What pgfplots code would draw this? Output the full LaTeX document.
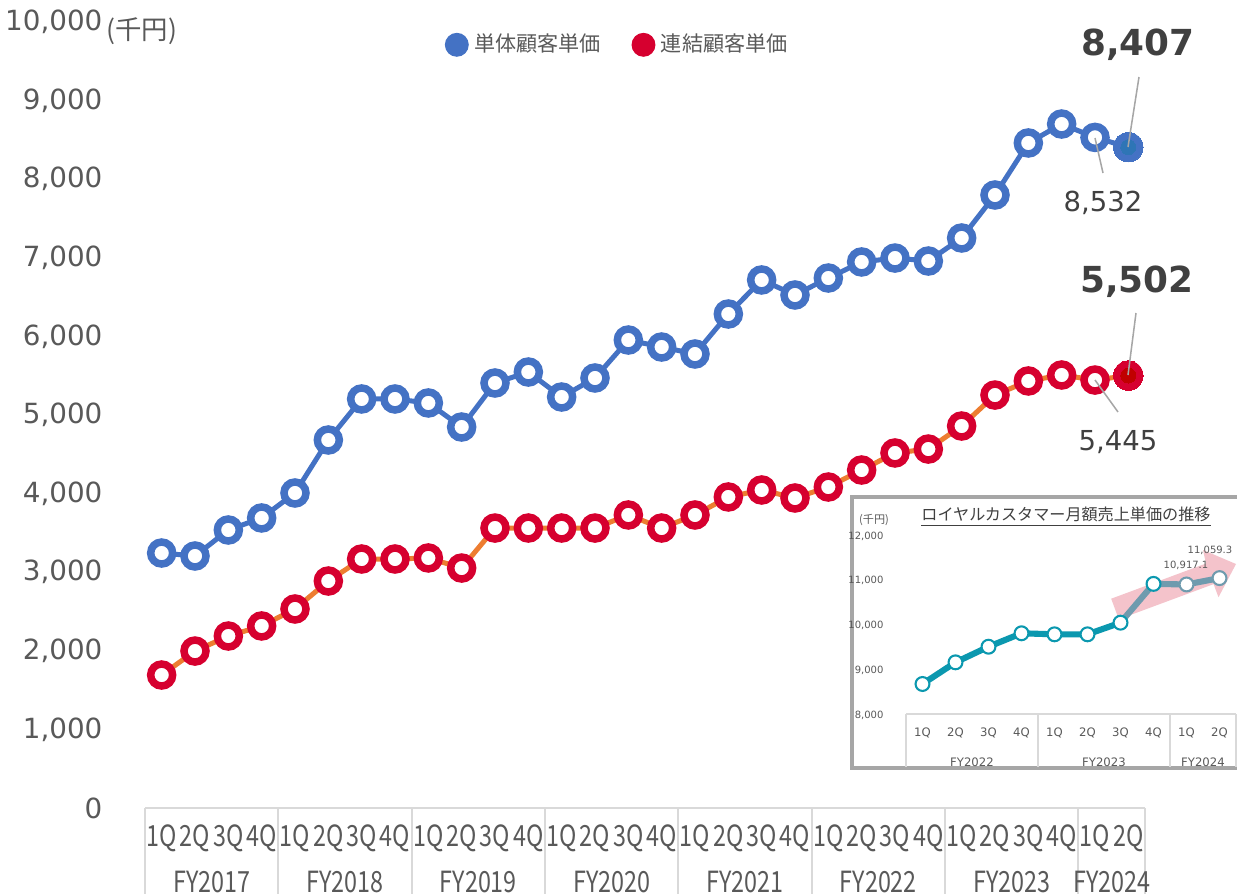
\documentclass[border=0pt]{standalone}
\usepackage{pgfplots}
\pgfplotsset{compat=1.18}
\usepackage{fontspec}
\setmainfont{DejaVu Sans}
\newfontfamily\jp{Noto Sans CJK JP}
\newfontfamily\narrow[FakeStretch=0.8]{Noto Sans CJK JP}

\definecolor{cblue}{HTML}{4472C4}
\definecolor{cbluedark}{HTML}{2E75B6}
\definecolor{cred}{HTML}{D6002F}
\definecolor{creddark}{HTML}{C00000}
\definecolor{corange}{HTML}{ED7D31}
\definecolor{ctext}{HTML}{595959}
\definecolor{cdark}{HTML}{404040}
\definecolor{cgrid}{HTML}{D9D9D9}
\definecolor{cleader}{HTML}{A6A6A6}
\definecolor{cbox}{HTML}{A6A6A6}
\definecolor{cteal}{HTML}{0B98AF}
\definecolor{cslate}{HTML}{6F9BAE}
\definecolor{cpink}{HTML}{F4C3CB}

% 単体顧客単価 / 連結顧客単価 (千円), 1Q FY2017 ... 2Q FY2024
\pgfplotstableread{
x  single  group
0  3244  1692
1  3206  1997
2  3537  2188
3  3690  2316
4  4008  2532
5  4682  2888
6  5204  3168
7  5204  3168
8  5153  3181
9  4847  3053
10 5407  3562
11 5547  3562
12 5229  3562
13 5471  3562
14 5954  3728
15 5865  3562
16 5776  3728
17 6285  3957
18 6718  4046
19 6527  3944
20 6743  4084
21 6947  4300
22 6997  4517
23 6959  4567
24 7252  4860
25 7799  5254
26 8461  5433
27 8702  5509
28 8532  5445
29 8407  5502
}\maintable

\begin{document}
\begin{tikzpicture}
\path[use as bounding box] (0,0) rectangle (445.32pt,-321.84pt);

\begin{axis}[
  at={(52.2pt,-290.88pt)}, anchor=south west,
  scale only axis, width=360pt, height=282.96pt,
  xmin=-0.5, xmax=29.5, ymin=0, ymax=10000,
  axis line style={draw=none},
  tick style={draw=none},
  clip=false,
  scaled y ticks=false,
  xtick={0,...,29},
  xticklabels={1Q,2Q,3Q,4Q,1Q,2Q,3Q,4Q,1Q,2Q,3Q,4Q,1Q,2Q,3Q,4Q,1Q,2Q,3Q,4Q,1Q,2Q,3Q,4Q,1Q,2Q,3Q,4Q,1Q,2Q},
  xticklabel style={anchor=center, yshift=-10.8pt, font=\narrow\fontsize{10.5pt}{12pt}\selectfont, text=ctext},
  ytick={0,1000,...,10000},
  yticklabel style={anchor=east, xshift=-11.8pt, font=\fontsize{10pt}{12pt}\selectfont, text=ctext},
  /pgf/number format/assume math mode=true,
  legend style={at={(axis description cs:0.291,0.971)}, anchor=west, draw=none, fill=none,
    font=\jp\fontsize{7.6pt}{9pt}\selectfont, text=ctext,
    /tikz/every even column/.append style={column sep=9pt}},
  legend columns=2,
]
\addlegendimage{legend image code/.code={\fill[cblue] (0.2cm,0pt) circle (4.1pt);}}
\addlegendentry{単体顧客単価}
\addlegendimage{legend image code/.code={\fill[cred] (0.2cm,0pt) circle (4.1pt);}}
\addlegendentry{連結顧客単価}

\addplot[forget plot, color=cblue, line width=1.8pt, mark=*, mark size=3.96pt,
  mark options={fill=white, draw=cblue, line width=2.7pt}] table[x=x, y=single] {\maintable};
\addplot[forget plot, color=corange, line width=1.8pt, mark=*, mark size=3.96pt,
  mark options={fill=white, draw=cred, line width=2.7pt}] table[x=x, y=group] {\maintable};

\addplot[forget plot, only marks, color=cblue, mark=*, mark size=5.3pt, mark options={fill=cblue, draw=cblue, line width=0pt}] coordinates {(29,8407)};
\addplot[forget plot, only marks, color=cbluedark, mark=*, mark size=2.7pt, mark options={fill=cbluedark, draw=cbluedark, line width=0pt}] coordinates {(29,8407)};
\addplot[forget plot, only marks, color=cred, mark=*, mark size=5.3pt, mark options={fill=cred, draw=cred, line width=0pt}] coordinates {(29,5502)};
\addplot[forget plot, only marks, color=creddark, mark=*, mark size=2.7pt, mark options={fill=creddark, draw=creddark, line width=0pt}] coordinates {(29,5502)};
\end{axis}

\begin{scope}[x=0.36pt, y=-0.36pt]
  % category axis of the main chart
  \draw[cgrid, line width=0.7pt] (145,808) -- (1145,808);
  \foreach \xx in {145,278.33,411.67,545,678.33,811.67,945,1078.33,1145}
    \draw[cgrid, line width=0.7pt] (\xx,808) -- (\xx,900);
  \foreach \xx/\lab in {211.67/FY2017,345/FY2018,478.33/FY2019,611.67/FY2020,745/FY2021,878.33/FY2022,1011.67/FY2023,1111.67/FY2024}
    \node[font=\narrow\fontsize{10.5pt}{12pt}\selectfont, text=ctext] at (\xx,882) {\lab};
  \node[font=\jp\fontsize{9.5pt}{11pt}\selectfont, text=ctext, anchor=west, inner sep=0pt] at (106,31) {(千円)};

  % callouts
  \draw[cleader, line width=0.55pt] (1139,77) -- (1128,147);
  \node[font=\bfseries\fontsize{12.9pt}{15pt}\selectfont, text=cdark] at (1138,45) {8,407};
  \draw[cleader, line width=0.55pt] (1103,173) -- (1095,138);
  \node[font=\fontsize{9.9pt}{12pt}\selectfont, text=cdark] at (1103,203) {8,532};
  \draw[cleader, line width=0.55pt] (1136,313) -- (1128,375);
  \node[font=\bfseries\fontsize{12.9pt}{15pt}\selectfont, text=cdark] at (1137,282) {5,502};
  \draw[cleader, line width=0.55pt] (1118,412) -- (1095,380);
  \node[font=\fontsize{9.9pt}{12pt}\selectfont, text=cdark] at (1118,442) {5,445};

  % inset frame and arrow
  \draw[fill=white, draw=cbox, line width=1.1pt] (852,497) rectangle (1250,768);
  \fill[cpink] (1111.2,598.7) -- (1206,563.5) -- (1203,550) -- (1236,564) -- (1218.5,597.2) -- (1213.6,584.1) -- (1118.8,619.3) -- cycle;
\end{scope}

\begin{axis}[
  at={(326.16pt,-257.4pt)}, anchor=south west,
  scale only axis, width=118.8pt, height=64.44pt,
  xmin=-0.5, xmax=9.5, ymin=8000, ymax=12000,
  axis line style={draw=none},
  tick style={draw=none},
  clip=false,
  scaled y ticks=false,
  xtick={0,...,9},
  xticklabels={1Q,2Q,3Q,4Q,1Q,2Q,3Q,4Q,1Q,2Q},
  xticklabel style={anchor=center, yshift=-6.5pt, font=\fontsize{4.2pt}{5pt}\selectfont, text=ctext},
  ytick={8000,9000,...,12000},
  yticklabel style={anchor=east, xshift=-4.6pt, font=\fontsize{3.6pt}{4.5pt}\selectfont, text=ctext},
  /pgf/number format/assume math mode=true,
]
\addplot[color=cteal, line width=2.2pt] coordinates {(0,8693) (1,9177) (2,9526) (3,9826) (4,9803) (5,9803) (6,10063)};
\addplot[color=cslate, line width=2.2pt] coordinates {(6,10063) (7,10930) (8,10917.1) (9,11059.3)};
\addplot[only marks, mark=*, mark size=2.5pt, mark options={fill=white, draw=cteal, line width=0.75pt}]
  coordinates {(0,8693) (1,9177) (2,9526) (3,9826) (4,9803) (5,9803) (6,10063) (7,10930)};
\addplot[only marks, mark=*, mark size=2.5pt, mark options={fill=white, draw=cslate, line width=0.75pt}]
  coordinates {(8,10917.1) (9,11059.3)};
\end{axis}

\begin{scope}[x=0.36pt, y=-0.36pt]
  \draw[cgrid, line width=0.5pt] (906,714) -- (1236,714);
  \foreach \xx in {906,1038,1170,1236}
    \draw[cgrid, line width=0.5pt] (\xx,714) -- (\xx,767);
  \foreach \xx/\lab in {972/FY2022,1104/FY2023,1203/FY2024}
    \node[font=\fontsize{4.2pt}{5pt}\selectfont, text=ctext] at (\xx,762) {\lab};
  \node[font=\fontsize{3.6pt}{4.5pt}\selectfont, text=ctext] at (1186,565) {10,917.1};
  \node[font=\fontsize{3.6pt}{4.5pt}\selectfont, text=ctext] at (1210,550) {11,059.3};
  \node[font=\jp\fontsize{5.8pt}{7pt}\selectfont, text=cdark] at (1066,517) {\underline{ロイヤルカスタマー月額売上単価の推移}};
  \node[font=\jp\fontsize{4pt}{5pt}\selectfont, text=ctext] at (874,520) {(千円)};
\end{scope}
\end{tikzpicture}
\end{document}
